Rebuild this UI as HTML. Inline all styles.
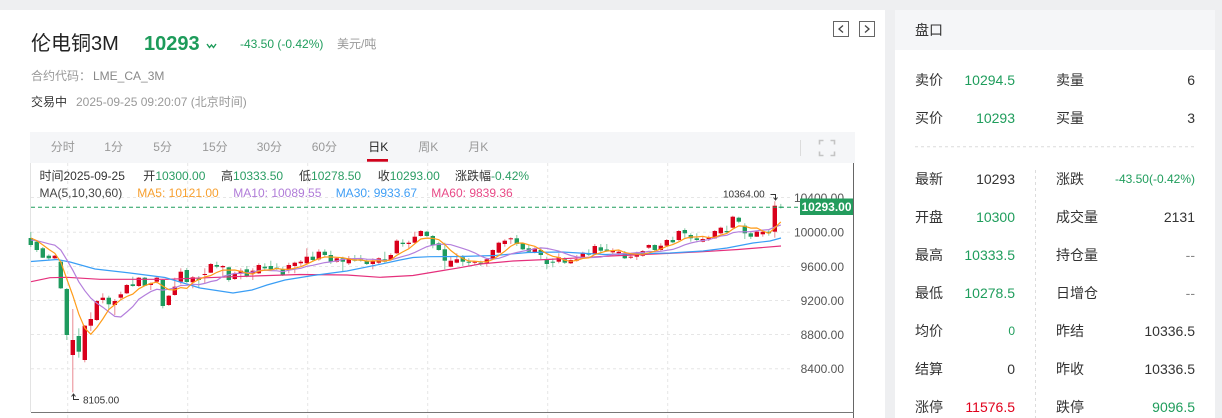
<!DOCTYPE html>
<html><head><meta charset="utf-8">
<style>
html,body{margin:0;padding:0}
body{width:1222px;height:418px;position:relative;overflow:hidden;background:#eeeff1;font-family:"Liberation Sans","Noto Sans CJK SC",sans-serif}
.a{position:absolute;white-space:nowrap;line-height:1}
.g{color:#1f9d5c}.r{color:#e0001b}.k{color:#333}
</style></head><body>
<div class="a" style="left:0;top:10px;width:885px;height:408px;background:#fff"></div>
<div class="a" style="left:895px;top:10px;width:320px;height:408px;background:#fff"></div>
<div class="a" style="left:895px;top:10px;width:320px;height:40px;background:#f5f6f8"></div>

<div class="a" style="left:31px;top:34px;font-size:20px;color:#222">伦电铜3M</div>
<div class="a" style="left:144px;top:34px;font-size:20px;font-weight:bold;color:#1d9b5a">10293</div>
<div class="a g" style="left:240px;top:38px;font-size:12px">-43.50 (-0.42%)</div>
<div class="a" style="left:337px;top:38px;font-size:12px;color:#999">美元/吨</div>
<div class="a" style="left:31px;top:70px;font-size:12px;color:#999">合约代码：</div>
<div class="a" style="left:93px;top:70px;font-size:12px;color:#888">LME_CA_3M</div>
<div class="a" style="left:31px;top:96px;font-size:12px;color:#333">交易中</div>
<div class="a" style="left:76px;top:96px;font-size:12px;color:#999">2025-09-25 09:20:07 (北京时间)</div>

<div class="a" style="left:915px;top:23px;font-size:14px;color:#333">盘口</div>

<div class="a k" style="left:915px;top:73px;font-size:14px">卖价</div>
<div class="a g" style="right:207px;top:73px;font-size:14px">10294.5</div>
<div class="a k" style="left:1056px;top:73px;font-size:14px">卖量</div>
<div class="a k" style="right:27px;top:73px;font-size:14px">6</div>

<div class="a k" style="left:915px;top:111px;font-size:14px">买价</div>
<div class="a g" style="right:207px;top:111px;font-size:14px">10293</div>
<div class="a k" style="left:1056px;top:111px;font-size:14px">买量</div>
<div class="a k" style="right:27px;top:111px;font-size:14px">3</div>

<div class="a k" style="left:915px;top:172px;font-size:14px">最新</div>
<div class="a k" style="right:207px;top:172px;font-size:14px">10293</div>
<div class="a k" style="left:1056px;top:172px;font-size:14px">涨跌</div>
<div class="a g" style="right:27px;top:173px;font-size:12px">-43.50(-0.42%)</div>

<div class="a k" style="left:915px;top:210px;font-size:14px">开盘</div>
<div class="a g" style="right:207px;top:210px;font-size:14px">10300</div>
<div class="a k" style="left:1056px;top:210px;font-size:14px">成交量</div>
<div class="a k" style="right:27px;top:210px;font-size:14px">2131</div>

<div class="a k" style="left:915px;top:248px;font-size:14px">最高</div>
<div class="a g" style="right:207px;top:248px;font-size:14px">10333.5</div>
<div class="a k" style="left:1056px;top:248px;font-size:14px">持仓量</div>
<div class="a" style="right:27px;top:248px;font-size:14px;color:#888">--</div>

<div class="a k" style="left:915px;top:286px;font-size:14px">最低</div>
<div class="a g" style="right:207px;top:286px;font-size:14px">10278.5</div>
<div class="a k" style="left:1056px;top:286px;font-size:14px">日增仓</div>
<div class="a" style="right:27px;top:286px;font-size:14px;color:#888">--</div>

<div class="a k" style="left:915px;top:324px;font-size:14px">均价</div>
<div class="a g" style="right:207px;top:325px;font-size:12px">0</div>
<div class="a k" style="left:1056px;top:324px;font-size:14px">昨结</div>
<div class="a k" style="right:27px;top:324px;font-size:14px">10336.5</div>

<div class="a k" style="left:915px;top:362px;font-size:14px">结算</div>
<div class="a k" style="right:207px;top:362px;font-size:14px">0</div>
<div class="a k" style="left:1056px;top:362px;font-size:14px">昨收</div>
<div class="a k" style="right:27px;top:362px;font-size:14px">10336.5</div>

<div class="a k" style="left:915px;top:400px;font-size:14px">涨停</div>
<div class="a r" style="right:207px;top:400px;font-size:14px">11576.5</div>
<div class="a k" style="left:1056px;top:400px;font-size:14px">跌停</div>
<div class="a g" style="right:27px;top:400px;font-size:14px">9096.5</div>

<svg id="c" class="a" style="left:0;top:0" width="1222" height="418" xmlns="http://www.w3.org/2000/svg" font-family="Liberation Sans, Noto Sans CJK SC, sans-serif">
<line x1="915" y1="146.7" x2="1195" y2="146.7" stroke="#dcdcdc" stroke-dasharray="3 3"/>
<line x1="1035.5" y1="170" x2="1035.5" y2="418" stroke="#dcdcdc" stroke-dasharray="3 3"/>
<polyline points="207,44 209.5,47.5 211.5,45 213.5,47.5 216,44" fill="none" stroke="#1d9b5a" stroke-width="1.4"/>
<rect x="833.5" y="21.5" width="15" height="15" fill="#fff" stroke="#666"/>
<polyline points="843,25.5 839,29 843,32.5" fill="none" stroke="#444" stroke-width="1.3"/>
<rect x="859.5" y="21.5" width="15" height="15" fill="#fff" stroke="#666"/>
<polyline points="865,25.5 869,29 865,32.5" fill="none" stroke="#444" stroke-width="1.3"/>

<rect x="30" y="132" width="825" height="31" fill="#f5f6f8"/>
<g font-size="12" fill="#999">
<text x="50.7" y="151">分时</text><text x="104.3" y="151">1分</text><text x="153.3" y="151">5分</text>
<text x="202.3" y="151">15分</text><text x="256.7" y="151">30分</text><text x="311.7" y="151">60分</text>
<text x="368.3" y="151" fill="#222">日K</text><text x="418.3" y="151">周K</text><text x="468.3" y="151">月K</text>
</g>
<rect x="367" y="159" width="21" height="2.7" fill="#d0021b"/>
<line x1="800.5" y1="140" x2="800.5" y2="156" stroke="#dcdcdc"/>
<g fill="none" stroke="#c4c4c4" stroke-width="1.6">
<polyline points="819.5,144.5 819.5,140.5 823.5,140.5"/><polyline points="830.5,140.5 834.5,140.5 834.5,144.5"/>
<polyline points="819.5,151.5 819.5,155.5 823.5,155.5"/><polyline points="830.5,155.5 834.5,155.5 834.5,151.5"/>
</g>

<g stroke="#e6e6e6" stroke-dasharray="3 3">
<line x1="67.7" y1="163" x2="67.7" y2="418"/><line x1="187.7" y1="163" x2="187.7" y2="418"/>
<line x1="307.7" y1="163" x2="307.7" y2="418"/><line x1="427.7" y1="163" x2="427.7" y2="418"/>
<line x1="547.7" y1="163" x2="547.7" y2="418"/><line x1="667.7" y1="163" x2="667.7" y2="418"/>
<line x1="31" y1="197.5" x2="790" y2="197.5"/><line x1="31" y1="232.3" x2="790" y2="232.3"/>
<line x1="31" y1="266.5" x2="790" y2="266.5"/><line x1="31" y1="300.5" x2="790" y2="300.5"/>
<line x1="31" y1="334.5" x2="790" y2="334.5"/><line x1="31" y1="368.7" x2="790" y2="368.7"/>
</g>
<line x1="30.5" y1="163" x2="30.5" y2="412" stroke="#e3e3e3"/>
<line x1="853.5" y1="163" x2="853.5" y2="418" stroke="#666"/>
<line x1="31" y1="412.5" x2="854" y2="412.5" stroke="#777"/>

<g font-size="12">
<text x="39.5" y="180" fill="#333">时间2025-09-25</text>
<text x="143.3" y="180" fill="#333">开<tspan fill="#2a9d63">10300.00</tspan></text>
<text x="221" y="180" fill="#333">高<tspan fill="#2a9d63">10333.50</tspan></text>
<text x="299" y="180" fill="#333">低<tspan fill="#2a9d63">10278.50</tspan></text>
<text x="377.7" y="180" fill="#333">收<tspan fill="#2a9d63">10293.00</tspan></text>
<text x="455" y="180" fill="#333">涨跌幅<tspan fill="#2a9d63">-0.42%</tspan></text>
<text x="39.5" y="197" fill="#444">MA(5,10,30,60)</text>
<text x="137.3" y="197" fill="#f7a030">MA5: 10121.00</text>
<text x="233.3" y="197" fill="#b07cd8">MA10: 10089.55</text>
<text x="335.7" y="197" fill="#3f9ef5">MA30: 9933.67</text>
<text x="431.3" y="197" fill="#e84a87">MA60: 9839.36</text>
</g>

<g id="cd"></g>
<g id="ml" fill="none" stroke-width="1.2">
<polyline stroke="#e5307c" points="31,281.7 50,277.7 67,277.3 100,279.3 167,279.3 233,276.7 300,274.5 347,275 380,277.3 413,275.5 440,271 460,267.7 480,264 513,261 547,259.5 580,257.8 610,256 671,253.3 703,251.7 738,249.5 781,246"/>
<polyline stroke="#3a9ef5" points="31,261.5 57,259.5 70,262 95,269 130,273 165,277.5 200,288 233,293 252,290 267,285 285,280 313,275.5 347,271 380,264.3 400,260 413,257.5 430,256.7 460,256.5 495,255.5 528,252.5 562,252 605,254.5 670,253 703,251 727,248 753,243 770,241 781,238"/>
</g>

<line x1="31" y1="207.3" x2="800" y2="207.3" stroke="#1f9d5c" stroke-dasharray="4 3"/>

<g font-size="10" fill="#333">
<text x="723" y="197.5">10364.00</text>
<text x="83" y="403.3">8105.00</text>
</g>
<g fill="none" stroke="#333" stroke-width="1">
<polyline points="770.5,194.5 775.5,194.5 775.5,200"/>
<polyline points="773.5,197.5 775.5,200 777.5,197.5"/>
<polyline points="73.5,394 73.5,399.5 79,399.5"/>
<polyline points="71.5,396.5 73.5,394 75.5,396.5"/>
</g>

<g font-size="12" fill="#555" text-anchor="end">
<text x="844" y="201.8">10400.00</text>
<text x="844" y="236.6">10000.00</text>
<text x="844" y="270.8">9600.00</text>
<text x="844" y="304.8">9200.00</text>
<text x="844" y="338.8">8800.00</text>
<text x="844" y="373">8400.00</text>
</g>
<rect x="800" y="198.5" width="53" height="16.5" fill="#239c5d"/>
<text x="826.5" y="211" font-size="12" font-weight="bold" fill="#fff" text-anchor="middle">10293.00</text>
</svg>

<script>
var D=[
[0,238,245,232,247],[0,241.7,250,240,252],[0,248.3,257.7,247,258],[0,255.7,258.3,254.3,260],[1,255.7,258.3,255,259],
[0,261.7,288.3,260,289],[0,289,335,288,340],[1,340,355,309,392.3],[0,336,351.7,328.3,357.7],[1,325.7,360,325,362.3],
[1,319,325.7,312.3,331],[1,301,320,300,321],[1,297.7,300,293.3,303.3],[0,297.7,304.3,295.7,310],[1,301,305,299,315],
[1,294.3,297.7,291.7,300],[1,285,293.3,284,294],[0,284.3,286,276.7,286.7],[1,277.7,286,277,287],[0,277.7,285.7,277,286],
[1,283.3,285,282.3,290],[1,277.7,281.7,276.7,283.3],[0,280,306,279,308.3],[1,295.7,305,295,306],[1,286.7,295,277.7,295.7],
[1,271.7,281.7,268.3,284.3],[0,270,282,268,283],[1,277.3,282.3,276,288.3],[0,278.7,280,276,288.3],[1,274,275,268.3,283.3],
[1,264,272.7,263,273],[0,265,266.7,261.7,268.3],[1,266,267.3,265,276],[0,267.3,280,266.7,281.7],[1,273.3,279,271.7,280],
[1,270.7,273.3,268.3,279.3],[0,269.3,276,266,277.3],[1,270.7,273.3,268.3,280],[1,265,273.3,263.3,274],[0,266.7,268.3,263.3,270.7],
[0,266,269.3,260.7,270],[0,267.7,269,263.3,270],[0,269.3,275,266.7,276],[1,265,270,262.7,273.3],[1,262.7,266,261.7,273.3],
[1,261.7,263.3,260,266],[1,256.7,263.3,248.3,264],[0,256.7,260,251.7,261.7],[1,251.7,259.3,249.3,260.7],[0,251.7,255,249.3,256.7],
[0,255,261.7,250.7,264],[1,258.3,261.7,257.3,262.7],[0,258.3,261.7,256.7,271.7],[1,258.3,263.3,256,265],[0,259.3,260.7,255,261.7],
[0,259.3,260.7,255,261.7],[0,260.7,264,259.3,265],[1,260.7,264,258.3,269.3],[1,258.3,262.7,257.3,265],[0,259.3,261.7,251.7,262.7],
[1,255,260,253.3,260.7],[1,240.7,253.3,239.3,254],[0,242.7,244,239.3,246.7],[1,242.7,244,240.7,248.3],[1,236.7,242.7,231.7,244],
[1,231,236,230,236.7],[0,231.7,236,231,236.7],[0,236,245,235,248.3],[0,243.3,250,241.7,250.7],[0,249.3,260.7,242.7,269.3],
[1,260.7,266.7,256,267.3],[1,259.3,262.7,253.3,263.3],[0,257.3,261.7,255,266],[0,261.7,262.7,258.3,266],[1,261.7,262.7,261.7,265],
[0,262.7,263.7,260.7,266],[1,259.3,262.7,258.3,266.7],[1,250,259.3,249.3,260],[1,242.7,252.7,241.7,253.3],[1,240.7,244,239.3,246.7],
[1,238.3,239.3,237.3,244],[0,238.3,244,235,246],[0,243.3,249.3,242.7,250],[0,248.3,251.7,245,252.7],[1,248.3,252.7,247.3,253.3],
[0,250,255,247.3,259.3],[0,259.3,264,256.7,269.3],[0,261.7,262.7,258.3,267.3],[1,257.3,261.7,253.3,263.3],[0,259.3,262.7,257.3,264],
[1,260,263.3,259.3,264],[1,259.3,260.7,255,261.7],[1,252.7,257.3,251.7,258.3],[0,253.3,254.7,249.3,256],[1,246,254,244,255],
[0,247.3,250.7,244,253.3],[0,249.5,250.7,244,251.7],[1,251,252.3,248.3,255.7],[1,251.7,253.3,250,255.7],[0,253.3,258.3,251,259],
[1,256.7,257.7,254.3,259],[1,253.3,256.7,251.7,260],[1,251,255.7,250,256.7],[1,245,247.7,244.3,249],[0,245,250,244.3,251],
[1,245.7,250,243.3,251],[1,240,245.7,239,246.7],[0,240,242.3,236.7,243.3],[1,231,240,230,241],[0,230,233.3,228.3,237.7],
[0,235,238.3,233.3,241.7],[0,238.3,240,233.3,242.3],[1,239,241.7,236.7,242.3],[1,237.7,239,235.7,241],[1,231,238.3,230,239],
[1,227.7,233.3,226.7,234.3],[0,231,232.3,225.7,233.3],[1,216.7,227.7,215.7,228.3],[0,217.7,221.7,216.7,223.3],[0,225.7,233.3,223.3,239],
[0,233.3,236.7,231,239],[1,231.7,236.7,231,237],[1,231.7,234.3,231.7,236.7],[0,231.7,233.3,230,235.7],[1,205.7,231.7,201.2,237.7],
[0,206.7,207.3,203.9,208.5]
];
var NS='http://www.w3.org/2000/svg';
function el(p,n,a){var e=document.createElementNS(NS,n);for(var k in a)e.setAttribute(k,a[k]);p.appendChild(e);return e;}
var cd=document.getElementById('cd');
for(var i=0;i<D.length;i++){var d=D[i],x=30.8+6*i,up=d[0]==1;
 el(cd,'line',{x1:x,x2:x,y1:d[3],y2:d[4],stroke:up?'#ea8991':'#85c9a5','stroke-width':1});
 var h=Math.max(1,d[2]-d[1]);
 el(cd,'rect',{x:x-2.2,y:d[1],width:4.4,height:h,fill:up?'#d9001b':'#1e9b5e'});
}
var pre=[243,243,242,242,240,237,236,236,236];
var C=pre.concat(D.map(function(d){return d[0]?d[1]:d[2];}));
function ma(n){var pts=[];for(var i=0;i<D.length;i++){var j=i+9,s=0;for(var k=j-n+1;k<=j;k++)s+=C[k];pts.push((30.8+6*i).toFixed(1)+','+(s/n).toFixed(1));}return pts.join(' ');}
var ml=document.getElementById('ml');
el(ml,'polyline',{points:ma(10),stroke:'#b47fdc'});
el(ml,'polyline',{points:ma(5),stroke:'#ff9c1a'});
</script>
</body></html>
